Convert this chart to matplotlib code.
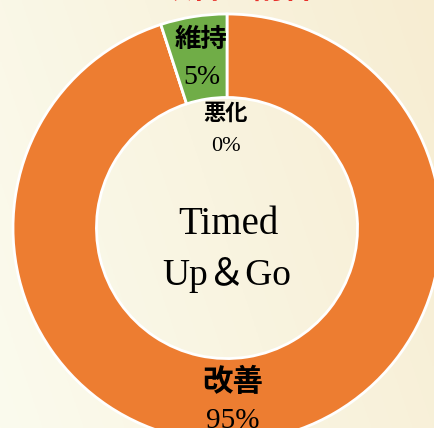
import numpy as np
import matplotlib
matplotlib.use('Agg')
import matplotlib.pyplot as plt

# data
labels = ['改善', '悪化', '維持']
values = [95, 0, 5]
colors = ['#ED7D31', '#A5A5A5', '#70AD47']
pct_text = ['95%', '0%', '5%']
center_lines = ['Timed', 'Up＆Go']
title = '改善の割合'

# label spots (data coords of the pie axes, radius 1)
label_pos = [(0.025, -0.725), (-0.005, 0.53), (-0.12, 0.88)]
pct_pos = [(0.025, -0.90), (-0.005, 0.383), (-0.117, 0.705)]
label_size = [22, 16, 19]
pct_size = [21, 16, 20]

fam = ['Liberation Serif', 'Noto Sans CJK JP']

W, H = 434, 428
fig = plt.figure(figsize=(W / 100, H / 100), dpi=100)

# cream background gradient
bg = fig.add_axes([0, 0, 1, 1])
xx, yy = np.meshgrid(np.linspace(0, 1, 200), np.linspace(0, 1, 200))
t = np.clip(0.75 * xx + 0.25 * yy, 0, 1)
c0 = np.array([251, 251, 238]) / 255
c1 = np.array([247, 237, 210]) / 255
img = c0[None, None, :] * (1 - t[..., None]) + c1[None, None, :] * t[..., None]
bg.imshow(img, extent=[0, 1, 0, 1], aspect='auto', origin='lower')
bg.axis('off')

# pie axes: center at (227, 228) px, radius 214 px
cx, cy, R = 227, 228, 214
ax = fig.add_axes([(cx - R) / W, (H - cy - R) / H, 2 * R / W, 2 * R / H])
ax.pie(values, colors=colors, startangle=90, counterclock=False, radius=1,
       wedgeprops=dict(width=0.39, edgecolor='white', linewidth=2))
ax.set_xlim(-1, 1)
ax.set_ylim(-1, 1)
ax.set_aspect('auto')
ax.axis('off')

for lab, pct, lp, pp, ls, ps in zip(labels, pct_text, label_pos, pct_pos, label_size, pct_size):
    ax.text(lp[0], lp[1], lab, ha='center', va='center', fontsize=ls,
            fontweight='bold', family=fam, color='black')
    ax.text(pp[0], pp[1], pct, ha='center', va='center', fontsize=ps,
            family=fam, color='black')

ax.text(0.005, 0.015, center_lines[0], ha='center', va='center', fontsize=28, family=fam)
ax.text(0.0, -0.22, center_lines[1], ha='center', va='center', fontsize=27, family=fam)

fig.text(237 / W, 1 - 5 / H, title, ha='center', va='bottom', fontsize=22,
         fontweight='bold', color='#E8302A', family=fam)

fig.savefig('out.png', dpi=100)
